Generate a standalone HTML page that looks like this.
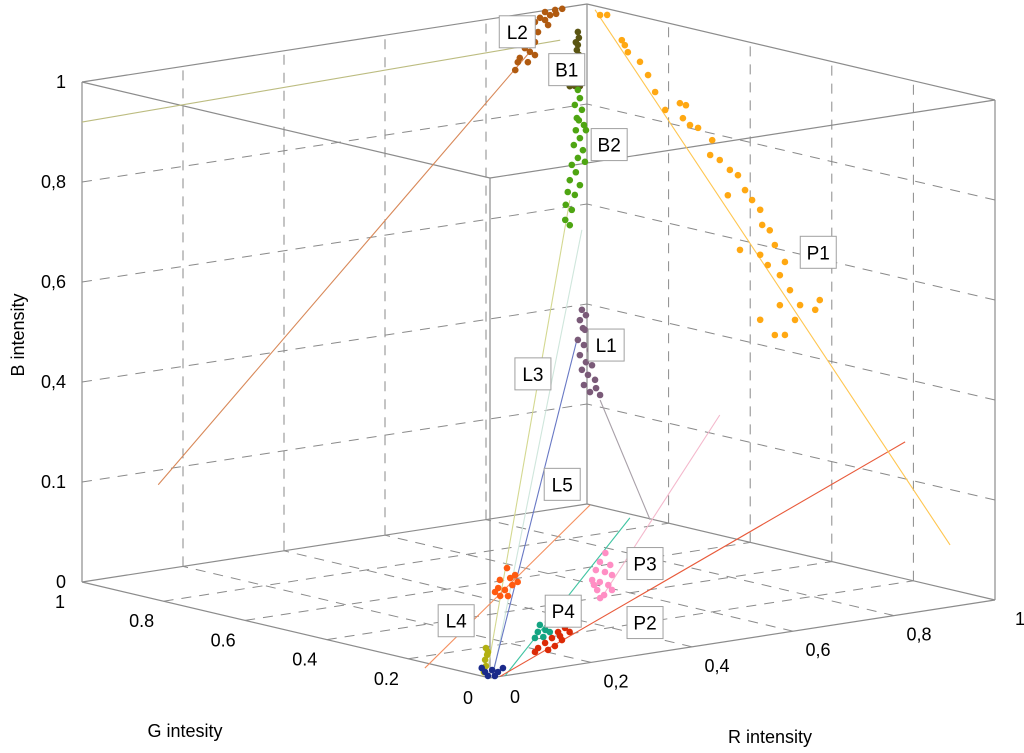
<!DOCTYPE html>
<html><head><meta charset="utf-8"><style>
html,body{margin:0;padding:0;background:#fff;}
svg{display:block;font-family:"Liberation Sans",sans-serif;}
</style></head><body>
<svg id="chart" width="1024" height="753" viewBox="0 0 1024 753" xmlns="http://www.w3.org/2000/svg">
<g id="grid"></g>
<g id="edges"></g>
<g id="fits"></g>
<g id="points"></g>
<g id="labels"></g>
<g id="ticks"></g>
<text transform="translate(24,335) rotate(-90)" text-anchor="middle" font-size="18">B intensity</text>
<text x="185" y="737" text-anchor="middle" font-size="18">G intesity</text>
<text x="770" y="743" text-anchor="middle" font-size="18">R intensity</text>
</svg>
<script>
// ticks
const bTicks=[0,0.2,0.4,0.6,0.8,1];
const bTickLabels=["0","0.1","0,4","0,6","0,8","1"];
const gTicks=[0,0.2,0.4,0.6,0.8,1];
const gTickLabels=["0","0.2","0.4","0.6","0.8","1"];
const rTicks=[0,0.2,0.4,0.6,0.8,1];
const rTickLabels=["0","0,2","0,4","0,6","0,8","1"];
// clusters: [r,g,b]
const clusterNames=["L2","B1","B2","P1","L1","P3","L5","P4","P2","L4","D"];
const clusterColors=["#b05a10","#5a5512","#4ea512","#ffa812","#7a5a78","#ff8ec4","#ff5a10","#14a482","#dc2a06","#b2b012","#1a2a8a"];
const L2pts=[[.109,0,1.315],[.129,0,1.316],[.143,0,1.316],[.119,0,1.307],[.099,0,1.305],[.089,0,1.298],[.109,0,1.299],[.083,0,1.287],[.095,0,1.277],[.075,0,1.268],[.089,0,1.258],[.069,0,1.249],[.079,0,1.240],[.059,0,1.231],[.055,0,1.223],[.075,0,1.220],[.050,0,1.208],[.089,0,1.232],[.115,0,1.288],[.131,0,1.308]];
const B1pts=[[.174,0,1.265],[.176,0,1.253],[.174,0,1.239],[.172,0,1.229],[.176,0,1.219],[.170,0,1.245],[.158,0,1.159],[.168,0,1.158],[.178,0,1.156]];
const B2pts=[[.174,0,1.149],[.178,0,1.132],[.168,0,1.120],[.182,0,1.108],[.172,0,1.093],[.186,0,1.077],[.170,0,1.069],[.178,0,1.052],[.166,0,1.040],[.184,0,1.027],[.174,0,1.013],[.162,0,1.001],[.188,0,1.003],[.170,0,.985],[.158,0,.971],[.178,0,.958],[.154,0,.948],[.168,0,.940],[.150,0,.923],[.162,0,.911],[.149,0,.893],[.158,0,.881],[.190,0,1.066],[.176,0,1.088]];
const P1pts=[[.218,0,1.292],[.232,0,1.290],[.261,0,1.235],[.267,0,1.224],[.273,0,1.209],[.297,0,1.186],[.313,0,1.157],[.327,0,1.121],[.347,0,1.082],[.376,0,1.091],[.388,0,1.085],[.382,0,1.060],[.396,0,1.044],[.412,0,1.036],[.440,0,1.007],[.436,0,.978],[.455,0,.965],[.475,0,.942],[.491,0,.929],[.505,0,.897],[.519,0,.875],[.535,0,.853],[.471,0,.892],[.539,0,.822],[.554,0,.809],[.564,0,.778],[.584,0,.741],[.550,0,.740],[.574,0,.716],[.594,0,.683],[.614,0,.650],[.604,0,.622],[.574,0,.656],[.535,0,.633],[.564,0,.598],[.584,0,.595],[.653,0,.654],[.644,0,.636],[.495,0,.779],[.535,0,.763]];
const L1pts=[[.182,0,.708],[.178,0,.688],[.188,0,.667],[.174,0,.649],[.186,0,.637],[.198,0,.625],[.178,0,.618],[.190,0,.602],[.202,0,.594],[.182,0,.588],[.194,0,.576],[.208,0,.564],[.186,0,.557],[.198,0,.541],[.218,0,.532],[.210,0,.547],[.184,0,.671],[.190,0,.696]];
const P3pts=[[.773,.674,0],[.721,.623,0],[.718,.594,0],[.675,.576,0],[.676,.555,0],[.669,.529,0],[.620,.517,0],[.619,.497,0],[.614,.470,0],[.575,.449,0],[.558,.411,0],[.593,.435,0],[.538,.396,0],[.597,.484,0]];
const L5pts=[[.579,.675,0],[.510,.607,0],[.532,.609,0],[.553,.623,0],[.467,.558,0],[.465,.539,0],[.499,.563,0],[.521,.577,0],[.429,.506,0],[.438,.498,0],[.443,.536,0]];
const P4pts=[[.329,.285,0],[.354,.296,0],[.350,.278,0],[.291,.243,0],[.310,.248,0],[.305,.231,0],[.257,.208,0],[.272,.206,0]];
const P2pts=[[.394,.284,0],[.344,.242,0],[.315,.223,0],[.329,.212,0],[.277,.191,0],[.279,.169,0],[.244,.167,0],[.240,.138,0],[.210,.142,0],[.212,.120,0],[.186,.120,0],[.297,.196,0]];
const L4pts=[[0,.010,.058],[0,.007,.045],[0,.012,.034],[0,.010,.022],[0,.015,.009],[0,.005,.051]];
const Dpts=[[.025,.043,0],[.043,.048,0],[.040,.030,0],[.066,.050,0],[.008,.015,0],[.016,.008,0],[.041,.071,0]];
const clusterPoints=[L2pts,B1pts,B2pts,P1pts,L1pts,P3pts,L5pts,P4pts,P2pts,L4pts,Dpts];
// fit lines: start/end [r,g,b]
const fitStarts=[[-.808,0,1.238],[-.657,0,.489],[-.004,0,.021],[.006,0,.003],[.004,0,.003],[.218,0,.522],[.218,0,.122],[.030,0,0],[.020,0,0],[-.129,0,.040],[.208,0,1.304]];
const fitEnds=[[.139,0,1.254],[.079,0,1.240],[.158,0,.931],[.182,0,.868],[.172,0,.649],[.317,0,.267],[.455,0,.455],[.277,0,.277],[.822,0,.344],[.198,0,.315],[.911,0,.124]];
const fitColors=["#bcbc80","#d88858","#d4d890","#cfe6dc","#6878c4","#a8a0a8","#f4b8cc","#40c4a2","#e85a3a","#f49060","#ffc650"];
// label boxes
const labelTexts=["L2","B1","B2","P1","L1","L3","L5","P3","P4","P2","L4"];
const labelR=[.054,.152,.236,.650,.230,.085,.143,.307,.145,.307,-.067];
const labelB=[1.284,1.193,1.030,0.750,0.630,0.595,0.365,0.181,0.111,0.063,0.125];

const NS="http://www.w3.org/2000/svg";
const O=[490,678];
function px(r,g,b){return [O[0]+505*r-408*g, O[1]-78*r-96*g-500*b];}
function mk(tag,attrs,parent){const e=document.createElementNS(NS,tag);for(const k in attrs)e.setAttribute(k,attrs[k]);parent.appendChild(e);return e;}
function line(p,q,attrs,parent){return mk('line',Object.assign({x1:p[0],y1:p[1],x2:q[0],y2:q[1]},attrs),parent);}

const grid=document.getElementById('grid');
const dash={stroke:'#8a8a8a','stroke-width':1,'stroke-dasharray':'10,8',fill:'none'};
const inner=[0.2,0.4,0.6,0.8];
inner.forEach(v=>{
  let e;
  e=line(px(v,1,0),px(v,1,1),dash,grid);
  
  
  e=line(px(0,1,v),px(1,1,v),dash,grid);
  
  
  e=line(px(1,v,0),px(1,v,1),dash,grid);
  
  
  e=line(px(1,0,v),px(1,1,v),dash,grid);
  
  
  e=line(px(v,0,0),px(v,1,0),dash,grid);
  
  
  e=line(px(0,v,0),px(1,v,0),dash,grid);
  
  
});
const edges=document.getElementById('edges');
const solid={stroke:'#8c8c8c','stroke-width':1.2};
const C=[[0,0],[1,0],[1,1],[0,1]];
for(let i=0;i<4;i++){
  const a=C[i],b=C[(i+1)%4];
  let e=line(px(a[0],a[1],0),px(b[0],b[1],0),solid,edges);
  
  
  e=line(px(a[0],a[1],1),px(b[0],b[1],1),solid,edges);
  
  
  e=line(px(a[0],a[1],0),px(a[0],a[1],1),solid,edges);
  
  
}
const fits=document.getElementById('fits');
fitStarts.forEach((s,i)=>{
  const e=line(px(...s),px(...fitEnds[i]),{stroke:fitColors[i],'stroke-width':1.1},fits);
  
  
});
const pts=document.getElementById('points');
clusterPoints.forEach((arr,ci)=>{
  const g=mk('g',{},pts);
  
  
  arr.forEach(p=>{
    const q=px(p[0],p[1],p[2]);
    const c=mk('circle',{cx:q[0],cy:q[1],r:3.3,fill:clusterColors[ci]},g);
    
    
  });
});
const labs=document.getElementById('labels');
labelTexts.forEach((t,i)=>{
  const q=px(labelR[i],0,labelB[i]);
  const g=mk('g',{},labs);
  
  
  mk('rect',{x:q[0]-18,y:q[1]-16,width:36,height:32,fill:'#fff',stroke:'#a0a0a0','stroke-width':1},g);
  const tx=mk('text',{x:q[0],y:q[1]+7,'text-anchor':'middle','font-size':19,fill:'#000'},g);
  tx.textContent=t;
});
const tk=document.getElementById('ticks');
bTicks.forEach((v,i)=>{
  const q=px(0,1,v);
  const t=mk('text',{x:q[0]-16,y:q[1]+6,'text-anchor':'end','font-size':18},tk);
  
  
  t.textContent=bTickLabels[i];
});
gTicks.forEach((v,i)=>{
  const q=px(0,v,0);
  const t=mk('text',{x:q[0]-22,y:q[1]+26,'text-anchor':'middle','font-size':18},tk);
  
  
  t.textContent=gTickLabels[i];
});
rTicks.forEach((v,i)=>{
  const q=px(v,0,0);
  const t=mk('text',{x:q[0]+25,y:q[1]+25,'text-anchor':'middle','font-size':18},tk);
  
  
  t.textContent=rTickLabels[i];
});
</script>
</body></html>
